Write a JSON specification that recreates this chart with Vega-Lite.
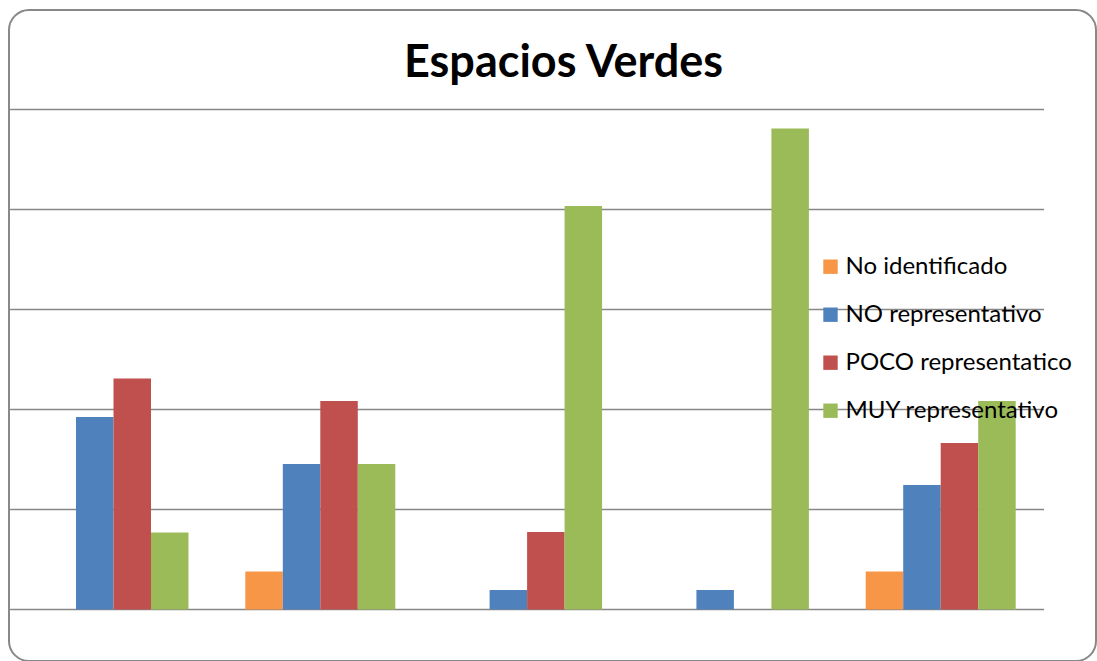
{
  "$schema": "https://vega.github.io/schema/vega-lite/v6.json",
  "autosize": {"type": "fit", "contains": "padding"},
  "width": 1097,
  "height": 661,
  "padding": {"left": 9, "top": 10, "right": 1, "bottom": 0},
  "background": "white",
  "config": {
    "view": {"stroke": "#888888", "strokeWidth": 2, "cornerRadius": 20},
    "font": "Lato"
  },
  "title": {
    "text": "Espacios Verdes",
    "font": "Lato",
    "fontSize": 45,
    "fontWeight": "bold",
    "color": "#000000",
    "anchor": "middle",
    "frame": "group",
    "orient": "top",
    "baseline": "alphabetic",
    "offset": -112,
    "dx": 11
  },
  "datasets": {
    "grid": [{"v": 0}, {"v": 20}, {"v": 40}, {"v": 60}, {"v": 80}, {"v": 100}],
    "bars": [
      {"zona": "Grupo 1", "serie": "NO representativo", "valor": 38.5},
      {"zona": "Grupo 1", "serie": "POCO representatico", "valor": 46.2},
      {"zona": "Grupo 1", "serie": "MUY representativo", "valor": 15.4},
      {"zona": "Grupo 2", "serie": "No identificado", "valor": 7.6},
      {"zona": "Grupo 2", "serie": "NO representativo", "valor": 29.1},
      {"zona": "Grupo 2", "serie": "POCO representatico", "valor": 41.7},
      {"zona": "Grupo 2", "serie": "MUY representativo", "valor": 29.1},
      {"zona": "Grupo 3", "serie": "NO representativo", "valor": 3.9},
      {"zona": "Grupo 3", "serie": "POCO representatico", "valor": 15.5},
      {"zona": "Grupo 3", "serie": "MUY representativo", "valor": 80.7},
      {"zona": "Grupo 4", "serie": "NO representativo", "valor": 3.9},
      {"zona": "Grupo 4", "serie": "MUY representativo", "valor": 96.2},
      {"zona": "Grupo 5", "serie": "No identificado", "valor": 7.6},
      {"zona": "Grupo 5", "serie": "NO representativo", "valor": 24.9},
      {"zona": "Grupo 5", "serie": "POCO representatico", "valor": 33.3},
      {"zona": "Grupo 5", "serie": "MUY representativo", "valor": 41.7}
    ]
  },
  "resolve": {"scale": {"x": "independent"}},
  "layer": [
    {
      "data": {"name": "grid"},
      "mark": {"type": "rule", "color": "#878787", "strokeWidth": 1.7},
      "encoding": {
        "x": {"datum": 0.001, "type": "quantitative", "scale": {"domain": [0, 1], "nice": false, "zero": false}, "axis": null},
        "x2": {"datum": 0.9522},
        "y": {"field": "v", "type": "quantitative", "scale": {"domain": [-10.3, 119.9], "nice": false, "zero": false}, "axis": null}
      }
    },
    {
      "data": {"name": "bars"},
      "mark": {"type": "bar"},
      "encoding": {
        "x": {
          "field": "zona",
          "type": "nominal",
          "sort": ["Grupo 1", "Grupo 2", "Grupo 3", "Grupo 4", "Grupo 5"],
          "scale": {"paddingInner": 0.2747, "paddingOuter": 0.2655, "align": 0.2687},
          "axis": null
        },
        "xOffset": {
          "field": "serie",
          "type": "nominal",
          "sort": ["No identificado", "NO representativo", "POCO representatico", "MUY representativo"],
          "scale": {"paddingInner": 0, "paddingOuter": 0}
        },
        "y": {"field": "valor", "type": "quantitative", "scale": {"domain": [-10.3, 119.9], "nice": false, "zero": false}, "axis": null},
        "color": {
          "field": "serie",
          "type": "nominal",
          "scale": {
            "domain": ["No identificado", "NO representativo", "POCO representatico", "MUY representativo"],
            "range": ["#F79646", "#4F81BD", "#C0504D", "#9BBB59"]
          },
          "legend": {
            "title": null,
            "orient": "none",
            "legendX": 809.5,
            "legendY": 244.7,
            "padding": 0,
            "symbolType": "square",
            "symbolSize": 207,
            "symbolStrokeWidth": 0,
            "labelFont": "Lato",
            "labelFontSize": 24,
            "labelColor": "#000000",
            "labelOffset": 3,
            "rowPadding": 24,
            "labelLimit": 400
          }
        }
      }
    }
  ]
}
